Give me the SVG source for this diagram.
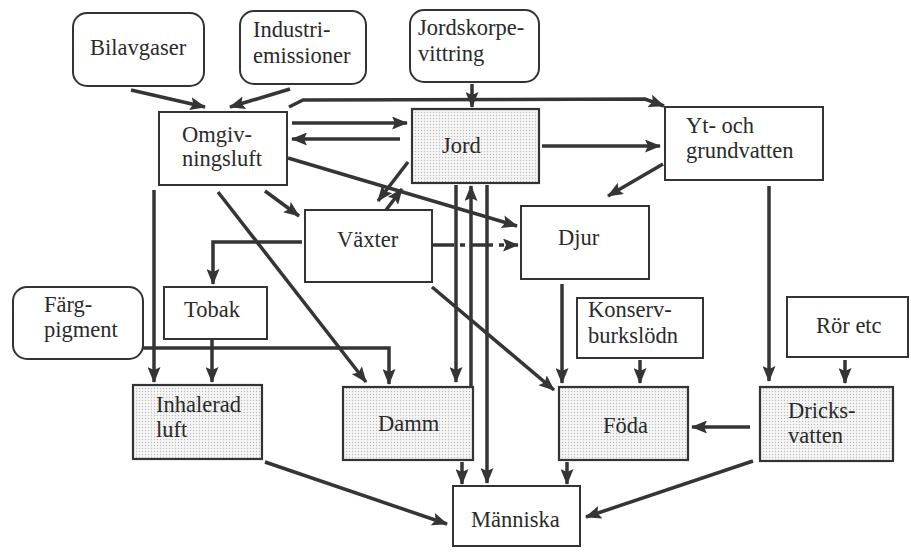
<svg xmlns="http://www.w3.org/2000/svg" width="911" height="559" viewBox="0 0 911 559">
<defs>
<marker id="ah" viewBox="0 0 16 13" refX="15" refY="6.5" markerWidth="16" markerHeight="13" markerUnits="userSpaceOnUse" orient="auto">
<path d="M0,0 L16,6.5 L0,13 L3,6.5 z" fill="#353535"/>
</marker>
<pattern id="dots" width="3" height="3" patternUnits="userSpaceOnUse">
<rect width="3" height="3" fill="#f6f6f6"/>
<circle cx="1.5" cy="1.5" r="0.7" fill="#bdbdbd"/>
</pattern>
</defs>
<style>
.box{fill:#fff;stroke:#333;stroke-width:2}
.sh{fill:url(#dots);stroke:#333;stroke-width:2.2}
.t{font-size:22.5px;fill:#2a2a2a}
.c path{fill:none;stroke:#353535;stroke-width:3.5;marker-end:url(#ah)}
</style>
<rect width="911" height="559" fill="#fff"/>
<g class="c" id="connectors">
<path d="M131,90 L205,107"/>
<path d="M290,89 L230,107"/>
<path d="M289,107 L303,100 L645,99 L664,106"/>
<path d="M472,84 L472,107"/>
<path d="M292,123 L407,123"/>
<path d="M400,139 L292,139"/>
<path d="M542,146 L660,146"/>
<path d="M663,164 L608,196"/>
<path d="M769,186 L769,381"/>
<path d="M265,191 L299,216"/>
<path d="M218,192 L366,382"/>
<path d="M154,190 L154,382"/>
<path d="M288,158 L517,226"/>
<path d="M408,162 L378,201"/>
<path d="M386,210 L402,189"/>
<path d="M456,185 L456,382"/>
<path d="M471,386 L471,186"/>
<path d="M487,185 L487,483"/>
<path d="M432,245 L518,245" stroke-dasharray="22,6,5,6"/>
<path d="M302,242 L213,242 L213,284"/>
<path d="M212,339 L212,382"/>
<path d="M143,348 L389,348 L389,384"/>
<path d="M432,287 L554,390"/>
<path d="M562,284 L562,383"/>
<path d="M640,360 L640,383"/>
<path d="M845,360 L845,383"/>
<path d="M750,427 L692,427"/>
<path d="M753,461 L586,517"/>
<path d="M265,462 L447,524"/>
<path d="M462,462 L462,484"/>
<path d="M567,462 L567,484"/>
</g>
<g font-family="Liberation Serif, Times New Roman, serif">
<g id="bilavgaser"><rect class="box" x="73" y="13" width="131" height="73" rx="14"/><text class="t" x="90" y="55">Bilavgaser</text></g>
<g id="industri"><rect class="box" x="240" y="11" width="126" height="73" rx="14"/><text class="t" x="253" y="37">Industri-</text><text class="t" x="253" y="63">emissioner</text></g>
<g id="jordskorpe"><rect class="box" x="410" y="10" width="129" height="72" rx="14"/><text class="t" x="418" y="35">Jordskorpe-</text><text class="t" x="418" y="61">vittring</text></g>
<g id="omgiv"><rect class="box" x="159" y="112" width="128" height="73"/><text class="t" x="182" y="142">Omgiv-</text><text class="t" x="182" y="166">ningsluft</text></g>
<g id="jord"><rect class="sh" x="412" y="109" width="127" height="74"/><text class="t" x="442" y="153">Jord</text></g>
<g id="yt"><rect class="box" x="665" y="107" width="158" height="73"/><text class="t" x="686" y="133">Yt- och</text><text class="t" x="686" y="158">grundvatten</text></g>
<g id="vaxter"><rect class="box" x="305" y="210" width="127" height="72"/><text class="t" x="337" y="247">Växter</text></g>
<g id="djur"><rect class="box" x="521" y="206" width="128" height="73"/><text class="t" x="558" y="245">Djur</text></g>
<g id="tobak"><rect class="box" x="164" y="287" width="103" height="52"/><text class="t" x="184" y="317">Tobak</text></g>
<g id="farg"><rect class="box" x="13" y="287" width="130" height="72" rx="14"/><text class="t" x="44" y="312">Färg-</text><text class="t" x="44" y="337">pigment</text></g>
<g id="konserv"><rect class="box" x="577" y="298" width="126" height="60"/><text class="t" x="588" y="317">Konserv-</text><text class="t" x="588" y="343">burkslödn</text></g>
<g id="ror"><rect class="box" x="787" y="297" width="121" height="60"/><text class="t" x="816" y="333">Rör etc</text></g>
<g id="inhalerad"><rect class="sh" x="133" y="385" width="129" height="74"/><text class="t" x="156" y="412">Inhalerad</text><text class="t" x="156" y="437">luft</text></g>
<g id="damm"><rect class="sh" x="343" y="387" width="130" height="73"/><text class="t" x="378" y="431">Damm</text></g>
<g id="foda"><rect class="sh" x="559" y="387" width="129" height="73"/><text class="t" x="603" y="433">Föda</text></g>
<g id="dricks"><rect class="sh" x="760" y="387" width="133" height="74"/><text class="t" x="788" y="418">Dricks-</text><text class="t" x="788" y="443">vatten</text></g>
<g id="manniska"><rect class="box" x="453" y="486" width="127" height="60"/><text class="t" x="471" y="527">Människa</text></g>
</g>
</svg>
